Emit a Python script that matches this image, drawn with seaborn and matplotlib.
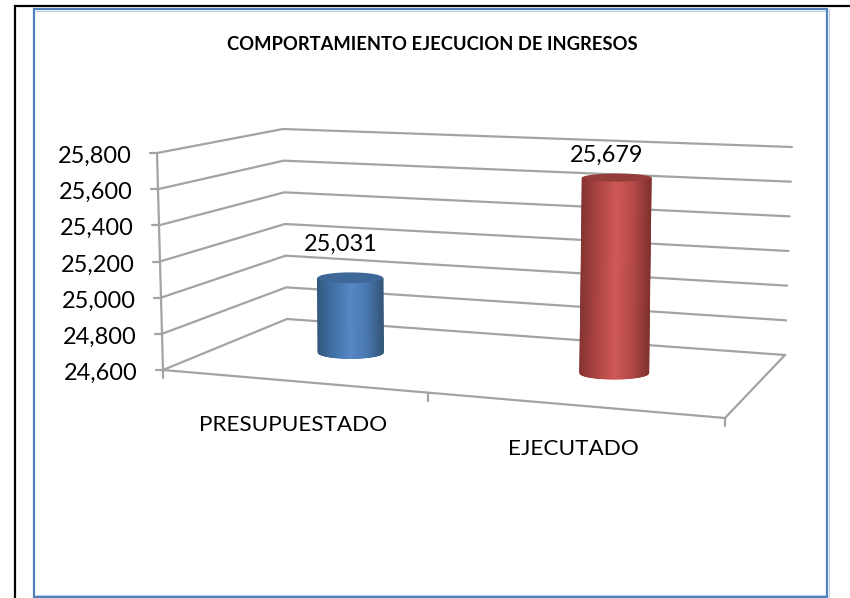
import numpy as np
import pandas as pd
import seaborn as sns
from matplotlib import pyplot as plt

title = 'COMPORTAMIENTO EJECUCION DE INGRESOS'
categories = ['PRESUPUESTADO', 'EJECUTADO']
values = [25031, 25679]
value_labels = ['25,031', '25,679']
y_ticks = [24600, 24800, 25000, 25200, 25400, 25600, 25800]
y_tick_labels = ['24,600', '24,800', '25,000', '25,200', '25,400', '25,600', '25,800']

# corners of the 3d box in pixels: front left, front right, back right, back left
FLOOR = [(163, 370), (725, 418), (785, 355), (287, 319)]
CEILING = [(157, 153), (745, 180), (792, 147), (283, 129)]
GRID_COLOR = '#a3a3a3'
TEXT_COLOR = '#000000'
FONT = 'Lato'

sns.set_theme(style='white')
plt.rcParams['font.family'] = [FONT, 'DejaVu Sans']


def homography(c):
    (x0, y0), (x1, y1), (x2, y2), (x3, y3) = c
    dx1, dx2, sx = x1 - x2, x3 - x2, x0 - x1 + x2 - x3
    dy1, dy2, sy = y1 - y2, y3 - y2, y0 - y1 + y2 - y3
    det = dx1 * dy2 - dx2 * dy1
    g = (sx * dy2 - dx2 * sy) / det
    h = (dx1 * sy - sx * dy1) / det
    return (x1 - x0 + g * x1, x3 - x0 + h * x3, x0,
            y1 - y0 + g * y1, y3 - y0 + h * y3, y0, g, h)


H_FLOOR = homography(FLOOR)
H_CEIL = homography(CEILING)


def apply_h(H, u, d):
    a, b, c, e, f, k, g, h = H
    w = g * u + h * d + 1
    return (a * u + b * d + c) / w, (e * u + f * d + k) / w, w


def project(u, d, value):
    # box position + data value -> pixels
    v = (value - y_ticks[0]) / (y_ticks[-1] - y_ticks[0])
    x0, y0, w = apply_h(H_FLOOR, u, d)
    x1, y1, _ = apply_h(H_CEIL, u, d)
    return x0 + (x1 - x0) * v, y0 + (y1 - y0) * v, w


fig, ax = plt.subplots(figsize=(8.5, 5.98), dpi=100)
fig.subplots_adjust(0, 0, 1, 1)
ax.set_xlim(0, 850)
ax.set_ylim(598, 0)
ax.axis('off')

# outer frames
ax.plot([850, 15, 15], [6, 6, 598], color='black', lw=1.6, solid_joinstyle='miter')
ax.plot([34, 34, 827, 827, 34], [597, 9, 9, 597, 597], color='#4f81bd', lw=1.6, solid_joinstyle='miter')
ax.plot([36, 825], [11, 11], color='#b9cde5', lw=0.8)
ax.plot([36, 825], [595, 595], color='#b9cde5', lw=0.8)
ax.plot([829, 829], [9, 597], color='#b9cde5', lw=0.8)

# grid lines: side wall and back wall for each tick
rows = []
for t in y_ticks:
    for n, (u, d) in enumerate([(0, 0), (0, 1), (1, 1)]):
        x, y, _ = project(u, d, t)
        rows.append({'x': x, 'y': y, 'line': t, 'order': n})
# floor outline and axis
for n, (u, d) in enumerate([(0, 0), (1, 0), (1, 1)]):
    x, y, _ = project(u, d, y_ticks[0])
    rows.append({'x': x, 'y': y, 'line': 'front', 'order': n})
for n, t in enumerate([y_ticks[0], y_ticks[-1]]):
    x, y, _ = project(0, 0, t)
    rows.append({'x': x, 'y': y, 'line': 'axis', 'order': n})
grid = pd.DataFrame(rows)
sns.lineplot(data=grid, x='x', y='y', units='line', estimator=None, sort=False,
             color=GRID_COLOR, linewidth=1.6, legend=False, ax=ax, zorder=1)
ax.set_xlim(0, 850)
ax.set_ylim(598, 0)

for t, lab in zip(y_ticks, y_tick_labels):
    x, y, _ = project(0, 0, t)
    ax.plot([x - 7, x], [y, y], color=GRID_COLOR, lw=1.6, zorder=1)
    ax.text(x - 25, y + 3.5, lab, ha='right', va='center', fontsize=16.9, color=TEXT_COLOR)
for u in [0, 0.5, 1]:
    x, y, _ = project(u, 0, y_ticks[0])
    ax.plot([x, x], [y, y + 8], color=GRID_COLOR, lw=1.6, zorder=1)

# cylinders
shades = [
    sns.blend_palette(['#34587f', '#4372a8', '#5787c6', '#4a79b3', '#345779'], as_cmap=True),
    sns.blend_palette(['#863432', '#ad4644', '#cf5957', '#b54a48', '#823230'], as_cmap=True),
]
top_colors = ['#3d6897', '#943d3b']
label_shift = [(-9.5, -33.5), (-10, -22)]
s = np.linspace(-1, 1, 121)
arc = np.sqrt(1 - s ** 2)
for i, val in enumerate(values):
    u = 0.25 + 0.5 * i
    xb, yb, w = project(u, 0.5, y_ticks[0])
    _, yt, _ = project(u, 0.5, val)
    half = 34 / w
    frac = (val - y_ticks[0]) / (y_ticks[-1] - y_ticks[0])
    # cylinders stay nearly upright, only a slight lean
    xt = xb + frac * (-3.5 + 8.4 * u)
    eh_bot, eh_top = 6, 6.3 - 2.5 * frac
    X = np.vstack([xt + half * s, xb + half * s])
    Y = np.vstack([yt + eh_top * arc, yb + eh_bot * arc])
    C = np.vstack([(s + 1) / 2, (s + 1) / 2])
    ax.pcolormesh(X, Y, C, cmap=shades[i], shading='gouraud', vmin=0, vmax=1, zorder=3)
    t = np.linspace(0, 2 * np.pi, 100)
    ax.fill(xt + half * np.cos(t), yt + eh_top * np.sin(t), color=top_colors[i], lw=0, zorder=4)
    ax.text(xt + label_shift[i][0], yt + label_shift[i][1], value_labels[i], ha='center', va='center',
            fontsize=16.9, color=TEXT_COLOR, zorder=5)
    xa, ya, _ = project(u, 0, y_ticks[0])
    ax.text(xa + 1, ya + 44, categories[i], ha='center', va='center', fontsize=16.2, color=TEXT_COLOR)

ax.text(432, 45, title, ha='center', va='center', fontsize=13.2, fontweight='bold', color=TEXT_COLOR)

fig.savefig('out.png', dpi=100)
